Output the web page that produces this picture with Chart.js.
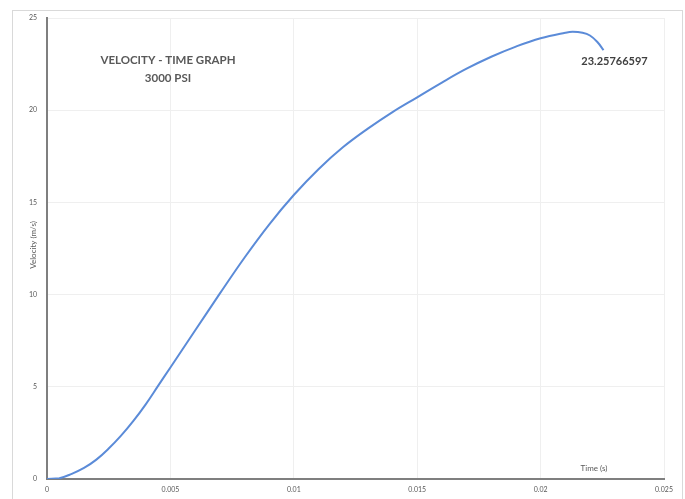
<!DOCTYPE html>
<html>
<head>
<meta charset="utf-8">
<script src="https://cdn.jsdelivr.net/npm/chart.js@4/dist/chart.umd.min.js"></script>
<style>
  html,body{margin:0;padding:0;background:#fff;}
  canvas{display:block;}
</style>
</head>
<body>
<canvas id="chart" width="685" height="499"></canvas>
<script>
// ------ DATA ------
const TIME_S = [0, 0.0005, 0.001, 0.0015, 0.002, 0.0025, 0.003, 0.0035, 0.004, 0.0045,
  0.005, 0.006, 0.007, 0.008, 0.009, 0.010, 0.011, 0.012, 0.013, 0.014,
  0.015, 0.016, 0.017, 0.018, 0.019, 0.020, 0.021, 0.0213, 0.0217, 0.0220, 0.0223, 0.02255];
const VELOCITY = [0, 0.04, 0.28, 0.6, 1.05, 1.65, 2.35, 3.15, 4.05, 5.05,
  6.05, 8.05, 10.05, 12.0, 13.8, 15.4, 16.8, 18.0, 19.0, 19.9,
  20.7, 21.5, 22.25, 22.9, 23.45, 23.9, 24.2, 24.25, 24.2, 24.05, 23.7, 23.25766597];
const X_TICKS = [0, 0.005, 0.01, 0.015, 0.02, 0.025];
const Y_TICKS = [0, 5, 10, 15, 20, 25];
const TITLE_LINES = ["VELOCITY - TIME GRAPH", "3000 PSI"];
const END_LABEL = "23.25766597";

const points = TIME_S.map((t,i)=>({x:t, y:VELOCITY[i]}));

// extra text + frame drawn on top of the chart
const decor = {
  id:'decor',
  beforeDraw(chart){
    const c = chart.ctx;
    c.save();
    c.fillStyle = '#fff';
    c.fillRect(0,0,chart.width,chart.height);
    c.strokeStyle = '#d9d9d9';
    c.lineWidth = 1;
    c.strokeRect(12.5, 10.5, 670, 500);
    c.restore();
  },
  afterDraw(chart){
    const c = chart.ctx, xs = chart.scales.x, ys = chart.scales.y;
    c.save();
    c.fillStyle = '#595959';
    c.textAlign = 'center';
    c.textBaseline = 'middle';
    c.font = 'bold 11.5px Lato, "Open Sans", sans-serif';
    c.fillText(TITLE_LINES[0], 168, 60);
    c.fillText(TITLE_LINES[1], 168, 78);

    // label for last point
    const last = points[points.length-1];
    const px = xs.getPixelForValue(last.x), py = ys.getPixelForValue(last.y);
    c.fillStyle = '#404040';
    c.font = 'bold 11px Lato, "Open Sans", sans-serif';
    c.fillText(END_LABEL, px + 11, py + 11);

    // axis titles
    c.fillStyle = '#595959';
    c.font = '8px Lato, "Open Sans", sans-serif';
    c.fillText('Time (s)', 594, 468);
    c.translate(33, 245);
    c.rotate(-Math.PI/2);
    c.fillText('Velocity (m/s)', 0, 0);
    c.restore();
  }
};

new Chart(document.getElementById('chart'), {
  type:'scatter',
  data:{datasets:[{
    data: points,
    showLine:true,
    borderColor:'#5b8bd8',
    borderWidth:2,
    pointRadius:0,
    tension:0.4,
    fill:false
  }]},
  options:{
    responsive:false,
    animation:false,
    layout:{padding:{left:0, right:21, top:18, bottom:0}},
    plugins:{legend:{display:false}, tooltip:{enabled:false}},
    scales:{
      x:{
        type:'linear', min:X_TICKS[0], max:X_TICKS[X_TICKS.length-1],
        afterBuildTicks: s => { s.ticks = X_TICKS.map(v=>({value:v})); },
        afterFit: s => { s.height = 20; },
        grid:{color:'#efefef', lineWidth:1, drawTicks:false},
        border:{color:'#7f7f7f', width:2},
        ticks:{color:'#595959', font:{size:7, family:'Lato, "Open Sans", sans-serif'}, padding:7,
          maxRotation:0, callback: v => String(+v.toFixed(3))}
      },
      y:{
        min:Y_TICKS[0], max:Y_TICKS[Y_TICKS.length-1],
        afterBuildTicks: s => { s.ticks = Y_TICKS.map(v=>({value:v})); },
        afterFit: s => { s.width = 47; },
        grid:{color:'#efefef', lineWidth:1, drawTicks:false},
        border:{color:'#7f7f7f', width:2},
        ticks:{color:'#595959', font:{size:7, family:'Lato, "Open Sans", sans-serif'}, padding:10}
      }
    }
  },
  plugins:[decor]
});
</script>
</body>
</html>
